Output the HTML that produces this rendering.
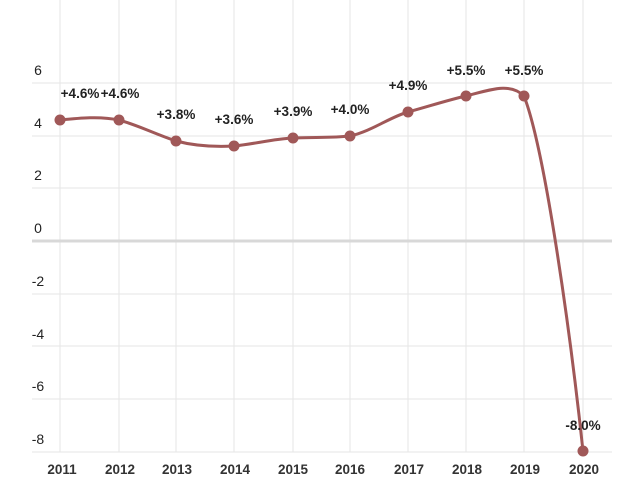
<!DOCTYPE html><html><head><style>body{margin:0;background:#fff}</style></head><body>
<svg width="640" height="494" xmlns="http://www.w3.org/2000/svg" font-family="Liberation Sans, sans-serif">
<g stroke="#e6e6e6" stroke-width="1">
<line x1="60" y1="0" x2="60" y2="452"/><line x1="119" y1="0" x2="119" y2="452"/><line x1="176" y1="0" x2="176" y2="452"/><line x1="234" y1="0" x2="234" y2="452"/><line x1="293" y1="0" x2="293" y2="452"/><line x1="350" y1="0" x2="350" y2="452"/><line x1="408" y1="0" x2="408" y2="452"/><line x1="466" y1="0" x2="466" y2="452"/><line x1="524" y1="0" x2="524" y2="452"/><line x1="583" y1="0" x2="583" y2="452"/>
<line x1="32" y1="83" x2="612" y2="83"/><line x1="32" y1="136" x2="612" y2="136"/><line x1="32" y1="188" x2="612" y2="188"/><line x1="32" y1="294" x2="612" y2="294"/><line x1="32" y1="346" x2="612" y2="346"/><line x1="32" y1="399" x2="612" y2="399"/><line x1="32" y1="452" x2="612" y2="452"/>
</g>
<line x1="32" y1="241" x2="612" y2="241" stroke="#d8d8d8" stroke-width="3"/>
<g font-size="14" fill="#222" text-anchor="middle">
<text x="38" y="75">6</text><text x="38" y="128">4</text><text x="38" y="180">2</text><text x="38" y="233">0</text><text x="38" y="286">-2</text><text x="38" y="339">-4</text><text x="38" y="391">-6</text><text x="38" y="444">-8</text>
<g font-weight="bold" fill="#333" font-size="13.5"><text x="62" y="474">2011</text><text x="120" y="474">2012</text><text x="177" y="474">2013</text><text x="235" y="474">2014</text><text x="293" y="474">2015</text><text x="350" y="474">2016</text><text x="409" y="474">2017</text><text x="467" y="474">2018</text><text x="525" y="474">2019</text><text x="584" y="474">2020</text></g>
</g>
<path d="M60,120 C80,118 100,116 119,120 C140,126 155,134 176,141 C195,146 215,147 234,146 C255,144 272,139 293,138 C312,137 332,138 350,136 C372,131 390,117 408,112 C430,106 448,100 466,96 C490,90 510,82 524,96 C545,150 570,330 583,451" fill="none" stroke="#a05858" stroke-width="3"/>
<g fill="#a05858">
<circle cx="60" cy="120" r="5.5"/><circle cx="119" cy="120" r="5.5"/><circle cx="176" cy="141" r="5.5"/><circle cx="234" cy="146" r="5.5"/><circle cx="293" cy="138" r="5.5"/><circle cx="350" cy="136" r="5.5"/><circle cx="408" cy="112" r="5.5"/><circle cx="466" cy="96" r="5.5"/><circle cx="524" cy="96" r="5.5"/><circle cx="583" cy="451" r="5.5"/>
</g>
<g font-size="13.5" font-weight="bold" fill="#222" text-anchor="middle">
<text x="80" y="98">+4.6%</text><text x="120" y="98">+4.6%</text><text x="176" y="119">+3.8%</text><text x="234" y="124">+3.6%</text><text x="293" y="116">+3.9%</text><text x="350" y="114">+4.0%</text><text x="408" y="90">+4.9%</text><text x="466" y="75">+5.5%</text><text x="524" y="75">+5.5%</text><text x="583" y="430">-8.0%</text>
</g>
</svg></body></html>
